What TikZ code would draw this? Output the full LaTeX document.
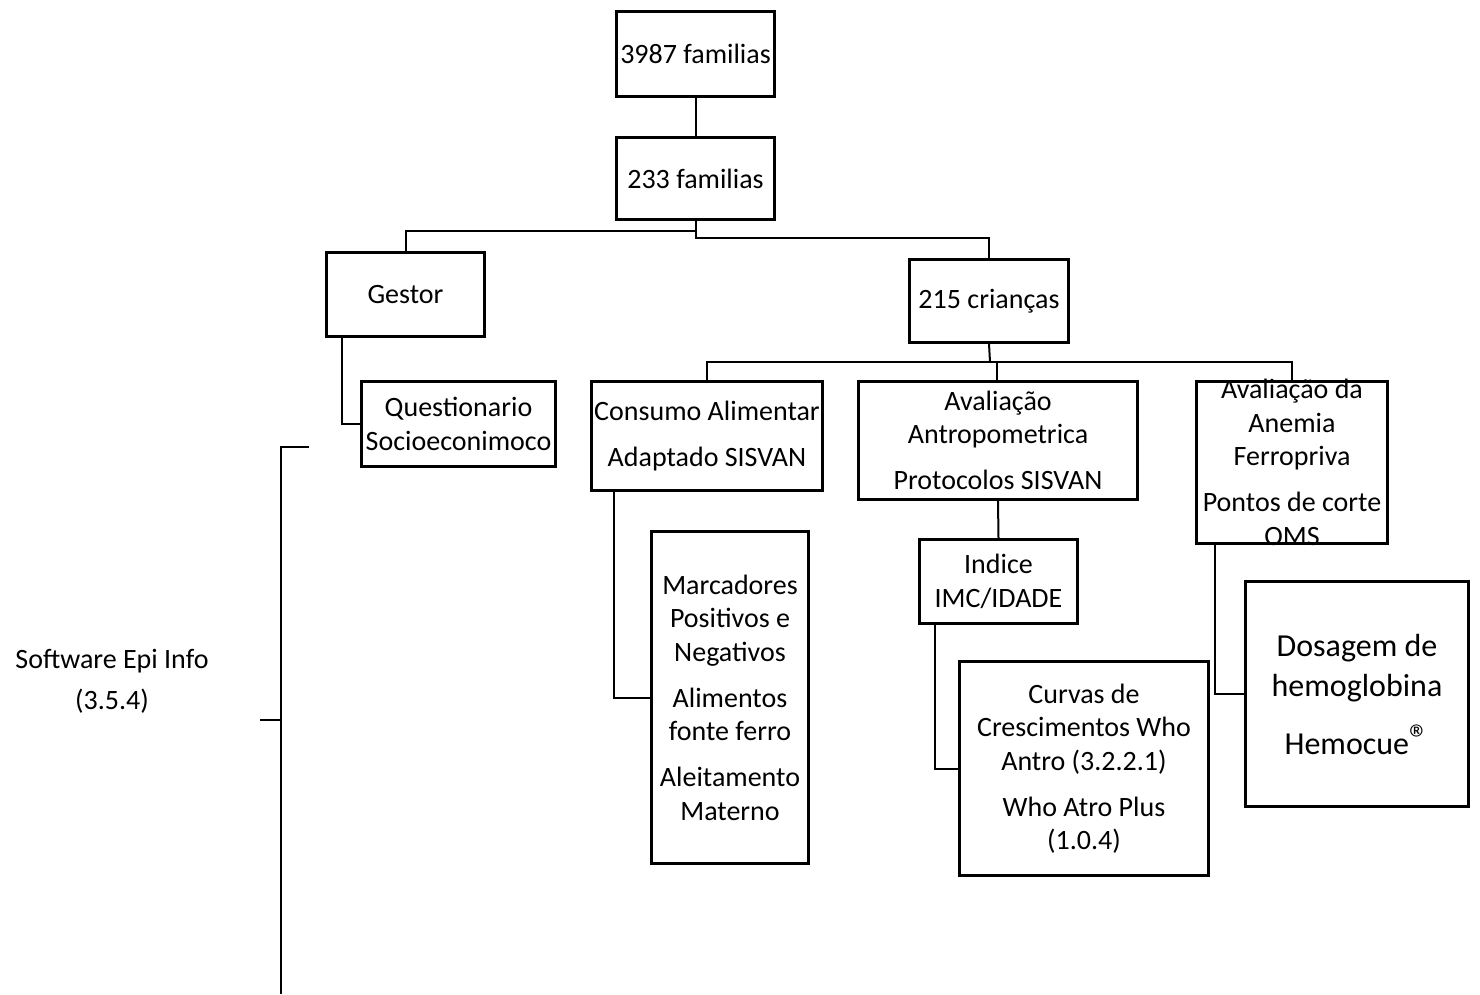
\documentclass[tikz,border=0pt]{standalone}
\usepackage{fontspec}
\setmainfont{Carlito}
\usetikzlibrary{positioning, calc}

\tikzset{
  box/.style={draw, line width=2.8pt, inner sep=0pt, align=center,
    font=\fontsize{28}{33.5}\selectfont},
  txt/.style={inner sep=0pt, align=center, font=\fontsize{28}{33.5}\selectfont},
  link/.style={line width=2pt}
}
\newcommand{\regmark}{\raisebox{0.05em}{\fontsize{40}{40}\selectfont\textregistered}}

\begin{document}
\begin{tikzpicture}[x=1pt, y=-1pt]
    \useasboundingbox (0,0) rectangle (1480,994);

    \node[box, minimum width=158, minimum height=85] (fam) at (695.5,54) {3987 familias};
    \node[box, minimum width=158, minimum height=82] (sel) at (695.5,178.5) {233 familias};
    \node[box, minimum width=158, minimum height=84] (gest) at (405.5,294.5) {Gestor};
    \node[box, minimum width=159, minimum height=83] (cri) at (989,301) {215 crianças};
    \node[box, minimum width=194, minimum height=85] (quest) at (458.5,424) {Questionario\\Socioeconimoco};
    \node[box, minimum width=231, minimum height=109] (cons) at (707,436) {Consumo Alimentar\\[12.5pt]Adaptado SISVAN};
    \node[box, minimum width=279, minimum height=118] (antr) at (998,440.5) {Avaliação\\Antropometrica\\[12.5pt]Protocolos SISVAN};
    \node[box, minimum width=191, minimum height=162] (anem) at (1292,462.5) {};
    \node[txt] (anemtxt) at (anem.center) {Avaliação da\\Anemia\\Ferropriva\\[12.5pt]Pontos de corte\\OMS};
    \node[box, minimum width=157, minimum height=332] (marc) at (730,697.5) {Marcadores\\Positivos e\\Negativos\\[12.5pt]Alimentos\\fonte ferro\\[12.5pt]Aleitamento\\Materno};
    \node[box, minimum width=158, minimum height=84] (ind) at (998.5,581.5) {Indice\\IMC/IDADE};
    \node[box, minimum width=249, minimum height=214] (curv) at (1084,768.5) {Curvas de\\Crescimentos Who\\Antro (3.2.2.1)\\[12.5pt]Who Atro Plus\\(1.0.4)};
    \node[box, minimum width=223, minimum height=225, font=\fontsize{32}{40}\selectfont] (dos) at (1357,694) {Dosagem de\\hemoglobina\\[18pt]Hemocue\regmark};
    \node[txt, font=\fontsize{28}{41}\selectfont] (epi) at (112,681) {Software Epi Info\\(3.5.4)};

    \coordinate (bar) at (990,362);
    \coordinate (btop) at (309,447);
    \coordinate (bbot) at (281,994);
    \coordinate (tick) at (260,720);

    \draw[link] (fam) -- (sel);
    \draw[link] (sel.south) -- ++(0,10) -| (gest.north);
    \draw[link] (sel.south) -- ++(0,17) -| (cri.north);
    \draw[link] ([xshift=-63.5]gest.south) |- (quest.west);
    \draw[link] (cri.south) -- (bar);
    \draw[link] (cons.north) |- (bar) -| (anem.north);
    \draw[link] ([xshift=-1]antr.north) -- ([xshift=-1]antr.north |- bar);
    \draw[link] ([xshift=-93]cons.south) |- (marc.west);
    \draw[link] (antr.south) -- (ind.north);
    \draw[link] ([xshift=-63.5]ind.south) |- (curv.west);
    \draw[link] ([xshift=-77]anem.south) |- (dos.west);
    \draw[link] (btop) -| (bbot);
    \draw[link] (tick) -- (tick -| bbot);
  \end{tikzpicture}
\end{document}
